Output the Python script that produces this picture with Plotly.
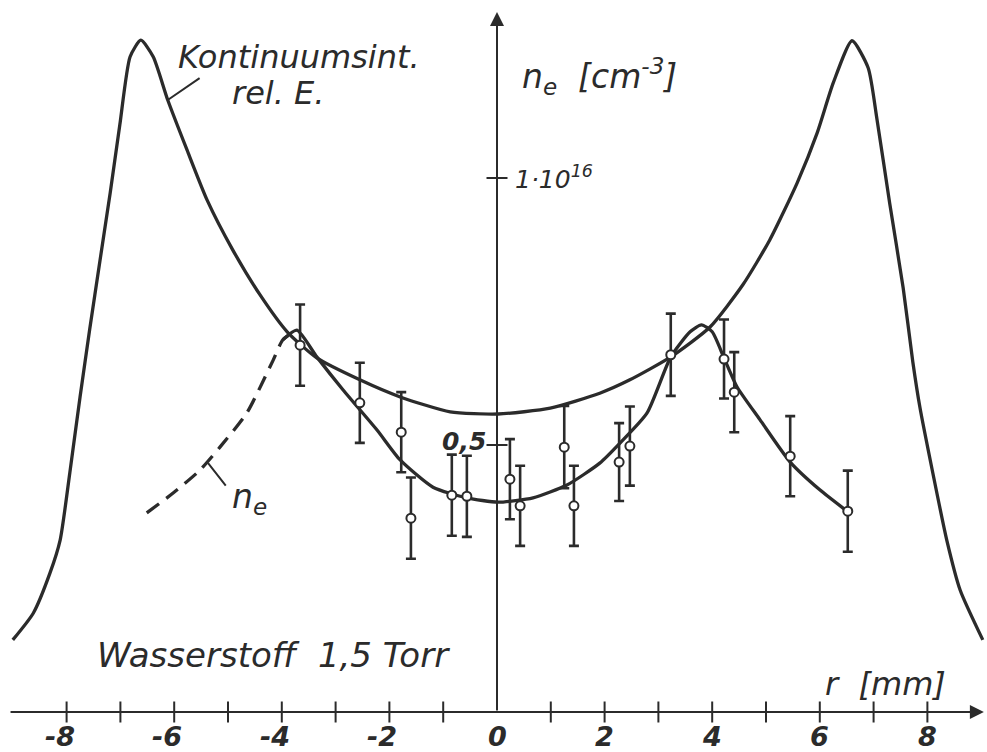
import plotly.graph_objects as go

# ---------------- data ----------------
# continuum intensity (relative units, plotted on the same scale)
cont_r = [-9.00, -8.62, -8.31, -8.12, -7.94, -7.75, -7.57, -7.38, -7.19, -7.01, -6.82, -6.62,
          -6.39, -6.12, -5.76, -5.39, -4.91, -4.41, -3.90, -3.35, -2.55, -1.80, -0.87, 0.02,
          0.99, 1.91, 2.47, 3.23, 3.96, 4.57, 5.07, 5.58, 5.95, 6.25, 6.60, 6.90, 7.06, 7.30,
          7.55, 7.73, 7.86, 8.10, 8.36, 8.61, 9.03]
cont_v = [0.135, 0.185, 0.260, 0.322, 0.448, 0.590, 0.717, 0.845, 0.972, 1.100, 1.227, 1.258,
          1.227, 1.146, 1.052, 0.959, 0.865, 0.782, 0.712, 0.663, 0.622, 0.590, 0.562, 0.558,
          0.569, 0.597, 0.622, 0.665, 0.721, 0.800, 0.884, 0.991, 1.084, 1.178, 1.257, 1.206,
          1.112, 0.952, 0.794, 0.655, 0.571, 0.448, 0.322, 0.228, 0.135]

# electron density fit curve (units of 1e16 cm^-3)
ne_r = [-3.98, -3.72, -3.35, -2.86, -2.23, -1.80, -1.19, -0.56, 0.02, 0.67, 1.30, 1.91,
        2.29, 2.79, 3.23, 3.59, 3.80, 4.00, 4.22, 4.46, 4.89, 5.45, 6.00, 6.52]
ne_v = [0.697, 0.715, 0.665, 0.603, 0.528, 0.472, 0.421, 0.401, 0.393, 0.401, 0.425, 0.466,
        0.504, 0.560, 0.665, 0.712, 0.725, 0.712, 0.663, 0.609, 0.547, 0.468, 0.416, 0.375]

# dashed extrapolation
ne_dash_r = [-6.51, -6.02, -5.52, -5.15, -4.65, -4.16, -3.98, -3.72]
ne_dash_v = [0.373, 0.410, 0.453, 0.496, 0.560, 0.659, 0.697, 0.715]

# measured points with error bars
pts_r = [-3.66, -2.55, -1.78, -1.60, -0.84, -0.56, 0.24, 0.43, 1.25, 1.43, 2.27, 2.47,
         3.23, 4.22, 4.41, 5.45, 6.52]
pts_v = [0.687, 0.579, 0.524, 0.363, 0.406, 0.404, 0.436, 0.386, 0.496, 0.386, 0.468, 0.498,
         0.669, 0.661, 0.599, 0.479, 0.376]
pts_err = [0.076, 0.075, 0.075, 0.076, 0.076, 0.076, 0.075, 0.075, 0.077, 0.075, 0.073, 0.074,
           0.077, 0.074, 0.075, 0.075, 0.076]

x_ticks = list(range(-8, 9))
x_labels = [-8, -6, -4, -2, 0, 2, 4, 6, 8]
y_ticks = [0.5, 1.0]

INK = "#2b2b2b"
FONT = "DejaVu Sans"

fig = go.Figure()

fig.add_trace(go.Scatter(x=cont_r, y=cont_v, mode="lines",
                         line=dict(color=INK, width=3.3, shape="spline", smoothing=0.6),
                         hoverinfo="skip"))
fig.add_trace(go.Scatter(x=ne_dash_r, y=ne_dash_v, mode="lines",
                         line=dict(color=INK, width=3.3, shape="spline", smoothing=0.6,
                                   dash="15px,9px"),
                         hoverinfo="skip"))
fig.add_trace(go.Scatter(x=ne_r, y=ne_v, mode="lines",
                         line=dict(color=INK, width=3.3, shape="spline", smoothing=0.6),
                         hoverinfo="skip"))
fig.add_trace(go.Scatter(x=pts_r, y=pts_v, mode="markers",
                         marker=dict(symbol="circle", size=9, color="white",
                                     line=dict(color=INK, width=2)),
                         error_y=dict(type="data", array=pts_err, visible=True,
                                      color=INK, thickness=2.6, width=5)))

# tick marks crossing the axes
fig.add_trace(go.Scatter(x=[t for t in x_ticks if t != 0], y=[0] * (len(x_ticks) - 1),
                         mode="markers",
                         marker=dict(symbol="line-ns", size=15,
                                     line=dict(color=INK, width=2)),
                         hoverinfo="skip"))
fig.add_trace(go.Scatter(x=[0] * len(y_ticks), y=y_ticks, mode="markers",
                         marker=dict(symbol="line-ew", size=15,
                                     line=dict(color=INK, width=2)),
                         hoverinfo="skip"))

anns = []
# axes with arrow heads
anns.append(dict(x=9.05, y=0, ax=-9.07, ay=0, xref="x", yref="y", axref="x", ayref="y",
                 showarrow=True, arrowhead=2, arrowsize=1.4, arrowwidth=2,
                 arrowcolor=INK, text=""))
anns.append(dict(x=0, y=1.311, ax=0, ay=0, xref="x", yref="y", axref="x", ayref="y",
                 showarrow=True, arrowhead=2, arrowsize=1.4, arrowwidth=2,
                 arrowcolor=INK, text=""))

# x tick labels
for v in x_labels:
    anns.append(dict(x=v, y=-0.045, xref="x", yref="y", text=str(v), showarrow=False,
                     xshift=-7 if v < 0 else 0,
                     font=dict(family=FONT, size=27, color=INK, style="italic",
                               weight="bold")))

# y tick labels
anns.append(dict(x=0.3, y=1.0, xref="x", yref="y", text="1·10<sup>16</sup>",
                 showarrow=False, xanchor="left", yanchor="middle",
                 font=dict(family=FONT, size=25, color=INK, style="italic")))
anns.append(dict(x=-0.17, y=0.506, xref="x", yref="y", text="0,5",
                 showarrow=False, xanchor="right", yanchor="middle",
                 font=dict(family=FONT, size=25, color=INK, style="italic", weight="bold")))

# axis titles
anns.append(dict(x=0.43, y=1.19, xref="x", yref="y",
                 text="n<sub>e</sub>  [cm<sup>-3</sup>]",
                 showarrow=False, xanchor="left", yanchor="middle",
                 font=dict(family=FONT, size=33, color=INK, style="italic")))
anns.append(dict(x=7.23, y=0.052, xref="x", yref="y", text="r  [mm]",
                 showarrow=False, xanchor="center", yanchor="middle",
                 font=dict(family=FONT, size=32, color=INK, style="italic")))

# curve labels
anns.append(dict(x=-5.97, y=1.227, xref="x", yref="y", text="Kontinuumsint.",
                 showarrow=False, xanchor="left", yanchor="middle",
                 font=dict(family=FONT, size=32, color=INK, style="italic")))
anns.append(dict(x=-4.96, y=1.159, xref="x", yref="y", text="rel. E.",
                 showarrow=False, xanchor="left", yanchor="middle",
                 font=dict(family=FONT, size=32, color=INK, style="italic")))
anns.append(dict(x=-4.96, y=0.40, xref="x", yref="y", text="n<sub>e</sub>",
                 showarrow=False, xanchor="left", yanchor="middle",
                 font=dict(family=FONT, size=33, color=INK, style="italic")))
anns.append(dict(x=-7.47, y=0.107, xref="x", yref="y", text="Wasserstoff  1,5 Torr",
                 showarrow=False, xanchor="left", yanchor="middle",
                 font=dict(family=FONT, size=34, color=INK, style="italic")))

# leader lines
anns.append(dict(x=-6.12, y=1.146, ax=-5.50, ay=1.189, xref="x", yref="y",
                 axref="x", ayref="y", showarrow=True, arrowhead=0, arrowwidth=2,
                 arrowcolor=INK, text=""))
anns.append(dict(x=-5.37, y=0.466, ax=-5.02, ay=0.421, xref="x", yref="y",
                 axref="x", ayref="y", showarrow=True, arrowhead=0, arrowwidth=2,
                 arrowcolor=INK, text=""))

fig.update_layout(
    width=987, height=752,
    margin=dict(l=0, r=0, t=0, b=0),
    paper_bgcolor="white", plot_bgcolor="white",
    showlegend=False,
    annotations=anns,
    xaxis=dict(range=[-9.238, 9.108], visible=False, fixedrange=True),
    yaxis=dict(range=[-0.0749, 1.3333], visible=False, fixedrange=True),
)

fig.write_html("out.html")
